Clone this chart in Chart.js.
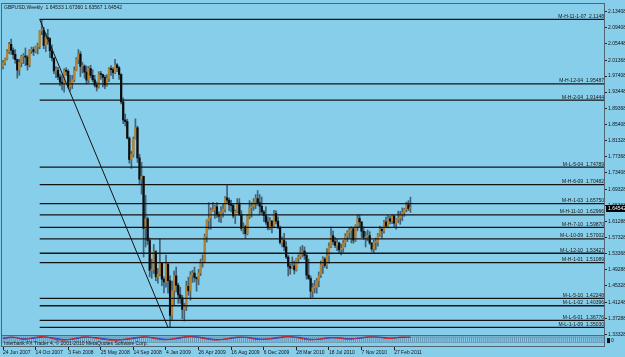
<!DOCTYPE html>
<html>
<head>
<meta charset="utf-8">
<script src="https://cdn.jsdelivr.net/npm/chart.js@4.4.0/dist/chart.umd.min.js"></script>
<style>
  html, body { margin: 0; padding: 0; background: #87ceeb; }
  #marco { width: 625px; height: 357px; position: relative; }
</style>
</head>
<body>
<div id="marco"><canvas id="grafico"></canvas></div>
<script>
// Semanas (índice 0 = 24 Jun 2007), velas GBPUSD semanal
const aperturas = [
  1.998,2.007,2.016,2.035,2.053,2.038,2.028,2.015,1.989,2.008,
  2.023,2.024,2.021,2.002,2.038,2.040,2.035,2.047,2.048,2.086,
  2.087,2.050,2.070,2.067,2.037,2.019,1.987,1.989,1.972,1.959,
  1.956,1.988,1.986,1.948,1.958,1.965,1.988,2.016,2.029,1.998,
  1.999,1.984,1.964,1.993,1.976,1.965,1.952,1.947,1.980,1.978,
  1.971,1.952,1.968,1.993,1.990,1.983,2.002,1.995,1.978,1.910,
  1.865,1.861,1.820,1.767,1.780,1.818,1.846,1.771,1.718,1.725,
  1.596,1.620,1.566,1.492,1.493,1.538,1.476,1.482,1.510,1.470,
  1.463,1.507,1.466,1.380,1.441,1.478,1.455,1.431,1.424,1.395,
  1.405,1.452,1.441,1.480,1.485,1.474,1.471,1.486,1.513,1.515,
  1.577,1.615,1.622,1.640,1.641,1.650,1.630,1.626,1.637,1.644,
  1.672,1.666,1.655,1.653,1.627,1.638,1.659,1.630,1.596,1.600,
  1.583,1.626,1.648,1.651,1.661,1.670,1.660,1.651,1.637,1.628,
  1.612,1.597,1.614,1.602,1.633,1.614,1.597,1.561,1.566,1.550,
  1.525,1.502,1.497,1.503,1.493,1.521,1.525,1.537,1.540,1.529,
  1.480,1.472,1.440,1.449,1.450,1.466,1.480,1.505,1.520,1.504,
  1.528,1.552,1.578,1.563,1.554,1.560,1.543,1.547,1.560,1.577,
  1.586,1.591,1.595,1.567,1.603,1.621,1.612,1.589,1.573,1.575,
  1.578,1.560,1.545,1.561,1.562,1.580,1.594,1.590,1.612,1.602,
  1.620,1.614,1.627,1.609,1.619,1.622,1.630,1.636,1.644,1.655,
  1.64533
];
const maximos = [
  2.013,2.019,2.040,2.058,2.066,2.044,2.040,2.016,2.016,2.026,
  2.030,2.044,2.025,2.040,2.046,2.046,2.049,2.056,2.087,2.115,
  2.095,2.080,2.090,2.070,2.052,2.019,1.998,1.996,1.979,1.977,
  1.992,1.995,1.990,1.976,1.976,1.997,2.020,2.040,2.035,2.008,
  2.002,1.999,1.998,2.001,1.990,1.976,1.960,1.985,1.986,1.979,
  1.976,1.978,1.995,2.000,1.995,2.016,2.005,1.998,1.980,1.920,
  1.880,1.867,1.823,1.787,1.823,1.868,1.850,1.780,1.760,1.726,
  1.678,1.624,1.572,1.520,1.556,1.541,1.497,1.570,1.512,1.476,
  1.530,1.512,1.478,1.465,1.490,1.500,1.460,1.450,1.430,1.410,
  1.465,1.475,1.489,1.492,1.500,1.476,1.494,1.520,1.530,1.582,
  1.617,1.660,1.647,1.661,1.654,1.660,1.637,1.650,1.656,1.675,
  1.705,1.671,1.666,1.658,1.642,1.670,1.670,1.640,1.610,1.604,
  1.630,1.665,1.660,1.670,1.680,1.690,1.680,1.674,1.641,1.650,
  1.625,1.623,1.616,1.641,1.640,1.625,1.602,1.575,1.584,1.563,
  1.529,1.508,1.525,1.515,1.522,1.530,1.550,1.554,1.550,1.535,
  1.520,1.478,1.460,1.467,1.472,1.488,1.515,1.526,1.524,1.546,
  1.560,1.599,1.590,1.574,1.569,1.562,1.557,1.566,1.583,1.590,
  1.598,1.600,1.597,1.605,1.630,1.629,1.613,1.600,1.588,1.592,
  1.588,1.560,1.567,1.572,1.584,1.602,1.597,1.616,1.624,1.628,
  1.626,1.630,1.629,1.620,1.639,1.638,1.647,1.646,1.661,1.665,
  1.6736
];
const minimos = [
  1.992,2.002,2.014,2.030,2.028,2.017,2.006,1.969,1.976,1.997,
  2.005,2.000,1.989,1.997,2.030,2.025,2.032,2.029,2.042,2.077,
  2.042,2.035,2.053,2.020,2.012,1.980,1.970,1.965,1.950,1.940,
  1.934,1.976,1.944,1.937,1.943,1.960,1.987,2.005,1.973,1.982,
  1.969,1.955,1.958,1.970,1.960,1.947,1.937,1.944,1.966,1.947,
  1.943,1.949,1.960,1.976,1.968,1.980,1.985,1.966,1.905,1.856,
  1.850,1.818,1.758,1.745,1.773,1.818,1.760,1.705,1.681,1.525,
  1.550,1.556,1.476,1.472,1.484,1.466,1.460,1.478,1.454,1.436,
  1.450,1.435,1.350,1.370,1.406,1.438,1.410,1.410,1.372,1.366,
  1.392,1.430,1.418,1.462,1.463,1.440,1.456,1.479,1.500,1.512,
  1.562,1.594,1.594,1.638,1.621,1.623,1.612,1.610,1.624,1.636,
  1.660,1.640,1.637,1.622,1.608,1.635,1.628,1.590,1.582,1.571,
  1.580,1.620,1.624,1.641,1.645,1.653,1.630,1.633,1.613,1.606,
  1.592,1.593,1.585,1.600,1.607,1.596,1.557,1.550,1.540,1.521,
  1.478,1.482,1.496,1.483,1.490,1.510,1.520,1.525,1.519,1.470,
  1.469,1.423,1.425,1.436,1.435,1.451,1.474,1.484,1.499,1.496,
  1.510,1.548,1.555,1.548,1.541,1.534,1.530,1.537,1.550,1.563,
  1.572,1.560,1.559,1.563,1.590,1.598,1.574,1.569,1.550,1.565,
  1.556,1.539,1.534,1.543,1.552,1.576,1.571,1.584,1.598,1.597,
  1.607,1.608,1.600,1.594,1.610,1.606,1.615,1.626,1.637,1.640,
  1.63567
];
const cierres = [
  2.007,2.016,2.035,2.053,2.038,2.028,2.015,1.989,2.008,2.023,
  2.024,2.021,2.002,2.038,2.040,2.035,2.047,2.048,2.086,2.087,
  2.050,2.070,2.067,2.037,2.019,1.987,1.989,1.972,1.959,1.956,
  1.988,1.986,1.948,1.958,1.965,1.988,2.016,2.029,1.998,1.999,
  1.984,1.964,1.993,1.976,1.965,1.952,1.947,1.980,1.978,1.971,
  1.952,1.968,1.993,1.990,1.983,2.002,1.995,1.978,1.910,1.865,
  1.861,1.820,1.767,1.780,1.818,1.846,1.771,1.718,1.725,1.596,
  1.620,1.566,1.492,1.493,1.538,1.476,1.482,1.510,1.470,1.463,
  1.507,1.466,1.380,1.441,1.478,1.455,1.431,1.424,1.395,1.405,
  1.452,1.441,1.480,1.485,1.474,1.471,1.486,1.513,1.515,1.577,
  1.615,1.622,1.640,1.641,1.650,1.630,1.626,1.637,1.644,1.672,
  1.666,1.655,1.653,1.627,1.638,1.659,1.630,1.596,1.600,1.583,
  1.626,1.648,1.651,1.661,1.670,1.660,1.651,1.637,1.628,1.612,
  1.597,1.614,1.602,1.633,1.614,1.597,1.561,1.566,1.550,1.525,
  1.502,1.497,1.503,1.493,1.521,1.525,1.537,1.540,1.529,1.480,
  1.472,1.440,1.449,1.450,1.466,1.480,1.505,1.520,1.504,1.528,
  1.552,1.578,1.563,1.554,1.560,1.543,1.547,1.560,1.577,1.586,
  1.591,1.595,1.567,1.603,1.621,1.612,1.589,1.573,1.575,1.578,
  1.560,1.545,1.561,1.562,1.580,1.594,1.590,1.612,1.602,1.620,
  1.614,1.627,1.609,1.619,1.622,1.630,1.636,1.644,1.655,1.6453,
  1.64542
];

// Eje de tiempo: una etiqueta cada 16 semanas
const semanasEtiqueta = [0, 16, 32, 48, 64, 80, 96, 112, 128, 144, 160, 176, 192];
const etiquetasFecha = ['24 Jun 2007', '14 Oct 2007', '3 Feb 2008', '25 May 2008', '14 Sep 2008',
  '4 Jan 2009', '26 Apr 2009', '16 Aug 2009', '6 Dec 2009', '28 Mar 2010', '18 Jul 2010',
  '7 Nov 2010', '27 Feb 2011'];

// Eje de precios
const preciosEje = [2.13408, 2.09408, 2.05448, 2.01368, 1.97408, 1.93448, 1.89368, 1.85408, 1.81328,
  1.77368, 1.73408, 1.69328, 1.65368, 1.61288, 1.57328, 1.53368, 1.49288, 1.45328, 1.41248,
  1.37288, 1.33328];

// Niveles horizontales dibujados sobre el gráfico
const nivelesNombre = ['M-H-11-1-07', 'M-H-12-04', 'M-H-2-04', 'M-L-5-04', 'M-H-6-09', 'M-H-1-03',
  'M-H-11-10', 'M-H-7-10', 'M-L-10-09', 'M-L-12-10', 'M-H-1-01', 'M-L-5-10', 'M-L-1-02',
  'M-L-6-01', 'M-L-1-1-09'];
const nivelesTexto = ['2.1148', '1.95487', '1.91444', '1.74789', '1.70482', '1.65750', '1.62966',
  '1.59870', '1.57002', '1.53427', '1.51089', '1.42248', '1.40396', '1.36776', '1.35030'];
const nivelesValor = [2.1148, 1.95487, 1.91444, 1.74789, 1.70482, 1.6575, 1.62966, 1.5987, 1.57002,
  1.53427, 1.51089, 1.42248, 1.40396, 1.36776, 1.3503];
const nivelInicio = 18;

// Línea de tendencia (semana, precio)
const tendenciaSemanas = [18, 81];
const tendenciaPrecios = [2.1148, 1.3503];

// Subventana del indicador (rojo / azul)
const semanasIndicador = [0,5,10,15,20,25,30,35,40,45,50,55,60,65,70,75,80,85,90,95,100,
  105,110,115,120,125,130,135,140,145,150,155,160,165,170,175,180,185,190,195,200];
const indicadorRojo = [60,80,30,70,90,40,20,55,85,60,30,15,40,70,85,45,25,60,90,75,40,
  20,50,80,65,30,45,75,90,60,25,40,70,55,35,65,85,70,50,80,75];
const indicadorAzul = [50,70,45,55,80,60,30,40,75,70,45,25,30,55,80,60,35,45,80,85,55,
  30,40,70,75,45,40,60,85,75,40,35,60,65,45,55,80,78,60,70,78];

const encabezado = 'GBPUSD,Weekly  1.64533 1.67360 1.63567 1.64542';
const pieTexto = 'Interbank FX Trader 4, \u00a9 2001-2010 MetaQuotes Software Corp.';

const fuente = 'Liberation Sans, Arial, sans-serif';
const minPrincipal = 1.33122;
const colorMarco = '#51646f';

window.onload = initGrafico;

function initGrafico() {
    const mechas = [];
    const cuerpos = [];
    const coloresCuerpo = [];
    for (let i = 0; i < cierres.length; i++) {
        mechas.push({ x: i, y: [minimos[i], maximos[i]] });
        cuerpos.push({ x: i, y: [aperturas[i], cierres[i]] });
        coloresCuerpo.push(cierres[i] >= aperturas[i] ? '#b5832f' : '#0c0c0c');
    }

    const datasets = [];
    nivelesValor.forEach(function (v) {
        datasets.push({
            type: 'line', data: [{ x: nivelInicio, y: v }, { x: 295.5, y: v }],
            borderColor: '#141414', borderWidth: 1.3, pointRadius: 0, order: 0, yAxisID: 'y'
        });
    });
    datasets.push({
        type: 'line',
        data: tendenciaSemanas.map((s, k) => ({ x: s, y: tendenciaPrecios[k] })),
        borderColor: '#141414', borderWidth: 1, pointRadius: 0, order: 0, yAxisID: 'y'
    });
    datasets.push({
        type: 'bar', data: cuerpos, backgroundColor: coloresCuerpo, barThickness: 1.6,
        minBarLength: 1, grouped: false, order: 1, yAxisID: 'y'
    });
    datasets.push({
        type: 'bar', data: mechas, backgroundColor: 'rgba(30,40,55,0.65)', barThickness: 1,
        grouped: false, order: 2, yAxisID: 'y'
    });
    datasets.push({
        type: 'line', data: semanasIndicador.map((s, k) => ({ x: s, y: indicadorRojo[k] })),
        borderColor: '#d42020', borderWidth: 1, pointRadius: 0, tension: 0.4, order: 0, yAxisID: 'y2'
    });
    datasets.push({
        type: 'line', data: semanasIndicador.map((s, k) => ({ x: s, y: indicadorAzul[k] })),
        borderColor: '#2233c8', borderWidth: 1, pointRadius: 0, tension: 0.4, order: 0, yAxisID: 'y2'
    });

    const decoracion = {
        id: 'decoracionMT4',
        beforeDatasetsDraw(chart) {
            const ctx = chart.ctx;
            const a = chart.chartArea;
            const xs = chart.scales.x;
            const sep = chart.scales.y.getPixelForValue(minPrincipal);
            ctx.save();
            // textura de la subventana
            ctx.fillStyle = 'rgba(70,90,115,0.5)';
            for (let i = 0; i <= 295; i++) {
                const px = xs.getPixelForValue(i);
                ctx.fillRect(px - 0.5, sep + 2, 1, 5);
            }
            ctx.fillStyle = 'rgba(70,90,115,0.45)';
            ctx.fillRect(a.left, sep + 1.5, a.right - a.left, 0.8);
            ctx.fillRect(a.left, sep + 7, a.right - a.left, 0.8);
            ctx.restore();
        },
        afterDatasetsDraw(chart) {
            const ctx = chart.ctx;
            const a = chart.chartArea;
            const ys = chart.scales.y;
            const sep = ys.getPixelForValue(minPrincipal);
            ctx.save();
            // marco
            ctx.strokeStyle = colorMarco;
            ctx.lineWidth = 1;
            ctx.strokeRect(a.left - 0.5, a.top - 0.5, a.right - a.left, a.bottom - a.top);
            ctx.beginPath();
            ctx.moveTo(a.left, sep + 0.5);
            ctx.lineTo(a.right, sep + 0.5);
            ctx.stroke();

            // etiquetas de niveles
            ctx.fillStyle = '#161616';
            ctx.font = '5px ' + fuente;
            ctx.textAlign = 'right';
            ctx.textBaseline = 'alphabetic';
            nivelesValor.forEach(function (v, k) {
                const py = ys.getPixelForValue(v);
                ctx.fillText(nivelesNombre[k] + '  ' + nivelesTexto[k], a.right - 1, py - 1.5);
            });

            // encabezado y pie
            ctx.textAlign = 'left';
            ctx.textBaseline = 'middle';
            ctx.fillText(encabezado, a.left + 2, a.top + 4);
            ctx.fillText(pieTexto, a.left + 2, a.bottom - 3);

            // valor del indicador en la escala derecha
            ctx.fillStyle = '#111';
            ctx.fillRect(a.right + 2, sep + 3, 3, 5);
            ctx.fillText('0', a.right + 6, sep + 5.5);

            // precio actual
            const ult = cierres[cierres.length - 1];
            const py = ys.getPixelForValue(ult);
            ctx.fillStyle = '#000';
            ctx.fillRect(a.right + 1, py - 3.5, 625 - a.right - 1, 7);
            ctx.fillStyle = '#fff';
            ctx.fillText(ult.toFixed(5), a.right + 3, py);
            ctx.restore();
        }
    };

    new Chart(document.getElementById('grafico').getContext('2d'), {
        data: { datasets: datasets },
        options: {
            responsive: true,
            maintainAspectRatio: false,
            animation: false,
            layout: { padding: { left: 2, top: 2, right: 0, bottom: 0 } },
            plugins: { legend: { display: false }, tooltip: { enabled: false } },
            scales: {
                x: {
                    type: 'linear', position: 'bottom', min: -0.5, max: 295.5, offset: false,
                    afterBuildTicks: function (s) { s.ticks = semanasEtiqueta.map(v => ({ value: v })); },
                    afterFit: function (s) { s.height = 10; },
                    ticks: {
                        autoSkip: false, maxRotation: 0, align: 'start', padding: 0, color: '#141414',
                        font: { size: 5, family: fuente },
                        callback: function (v) { return etiquetasFecha[semanasEtiqueta.indexOf(v)]; }
                    },
                    grid: { offset: false, drawOnChartArea: false, drawTicks: true, tickLength: 3, color: '#222' },
                    border: { display: false }
                },
                y: {
                    type: 'linear', position: 'right', min: 1.30161, max: 2.15305,
                    afterBuildTicks: function (s) { s.ticks = preciosEje.map(v => ({ value: v })); },
                    afterFit: function (s) { s.width = 20; },
                    ticks: {
                        autoSkip: false, padding: 1, color: '#141414',
                        font: { size: 5, family: fuente },
                        callback: function (v) { return v.toFixed(5); }
                    },
                    grid: { drawOnChartArea: false, drawTicks: true, tickLength: 2, color: '#222' },
                    border: { display: false }
                },
                y2: { type: 'linear', display: false, min: -120, max: 6780 }
            }
        },
        plugins: [decoracion]
    });
}
</script>
</body>
</html>
